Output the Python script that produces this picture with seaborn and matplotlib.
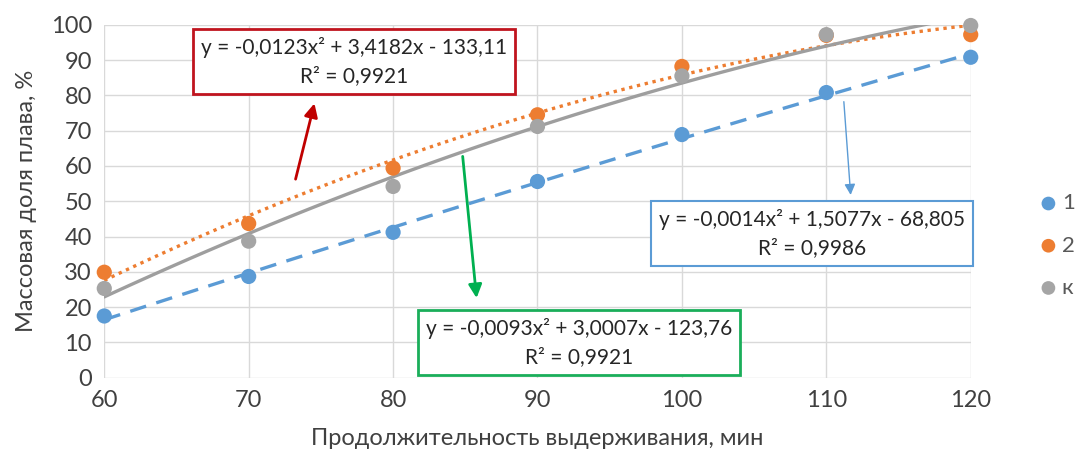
import matplotlib
matplotlib.use("Agg")
import matplotlib.pyplot as plt
import seaborn as sns
import pandas as pd

# data
minutes = [60, 70, 80, 90, 100, 110, 120]
series_1 = [17.5, 28.7, 41.2, 55.6, 68.9, 80.8, 90.8]
series_2 = [29.9, 43.7, 59.4, 74.5, 88.2, 97.0, 97.2]
series_k = [25.3, 38.7, 54.2, 71.2, 85.5, 97.2, 99.8]

labels = ["1", "2", "к"]
eq_1 = "y = -0,0014x² + 1,5077x - 68,805\nR² = 0,9986"
eq_2 = "y = -0,0123x² + 3,4182x - 133,11\nR² = 0,9921"
eq_k = "y = -0,0093x² + 3,0007x - 123,76\nR² = 0,9921"

colors = ["#5B9BD5", "#ED7D31", "#A5A5A5"]
styles = [(0, (5, 3.2)), (0, (1, 1.4)), "-"]

sns.set_style("white")
plt.rcParams['font.family'] = ['Lato', 'DejaVu Sans']

fig = plt.figure(figsize=(10.75, 4.59), dpi=100)
ax = fig.add_axes([0.097, 0.177, 0.806, 0.769])

df = pd.DataFrame({"x": minutes, "1": series_1, "2": series_2, "к": series_k})

# trend lines first, markers on top
for name, col, ls in zip(labels, colors, styles):
    sns.regplot(data=df, x="x", y=name, order=2, ci=None, scatter=False, ax=ax,
                truncate=True,
                line_kws=dict(color=col if name != "к" else "#9E9E9E", lw=2.4, ls=ls))
for name, col in zip(labels, colors):
    sns.scatterplot(data=df, x="x", y=name, ax=ax, color=col, s=120,
                    edgecolor="none", label=name, zorder=5, clip_on=False)

ax.set_xlim(60, 120)
ax.set_ylim(0, 100)
ax.set_xticks(range(60, 121, 10))
ax.set_yticks(range(0, 101, 10))
ax.grid(True, color="#D9D9D9", lw=1)
for s in ax.spines.values():
    s.set_visible(False)
ax.tick_params(labelsize=17, colors="#404040", length=0, pad=9)
ax.set_xlabel("Продолжительность выдерживания, мин", fontsize=17, color="#404040", labelpad=12)
ax.set_ylabel("Массовая доля плава, %", fontsize=17, color="#404040", labelpad=10)

ax.legend(loc="center left", bbox_to_anchor=(0.967, 0.465), bbox_transform=fig.transFigure,
          frameon=False, fontsize=16, labelcolor="#595959", handletextpad=0.2,
          handlelength=0.8, borderpad=0, borderaxespad=0,
          labelspacing=1.0, markerscale=0.9)

# equation boxes
box_kw = dict(ha="center", va="center", fontsize=15, color="#262626",
              linespacing=1.5, zorder=6)
ax.text(77.3, 89.5, eq_2, bbox=dict(boxstyle="square,pad=0.38", fc="white", ec="#C0141E", lw=2), **box_kw)
ax.text(109.0, 40.8, eq_1, bbox=dict(boxstyle="square,pad=0.38", fc="white", ec="#5B9BD5", lw=1.5), **box_kw)
ax.text(92.9, 9.9, eq_k, bbox=dict(boxstyle="square,pad=0.38", fc="white", ec="#1AAE5A", lw=2), **box_kw)

# arrows
ax.annotate("", xy=(74.6, 78.5), xytext=(73.2, 55.5),
            arrowprops=dict(arrowstyle="-|>", color="#C00000", lw=2, mutation_scale=20))
ax.annotate("", xy=(85.8, 21.8), xytext=(84.8, 63.5),
            arrowprops=dict(arrowstyle="-|>", color="#00B050", lw=2, mutation_scale=20))
ax.annotate("", xy=(111.7, 51.0), xytext=(111.2, 79.0),
            arrowprops=dict(arrowstyle="-|>", color="#5B9BD5", lw=1, mutation_scale=16))

fig.savefig("out.png", dpi=100)
